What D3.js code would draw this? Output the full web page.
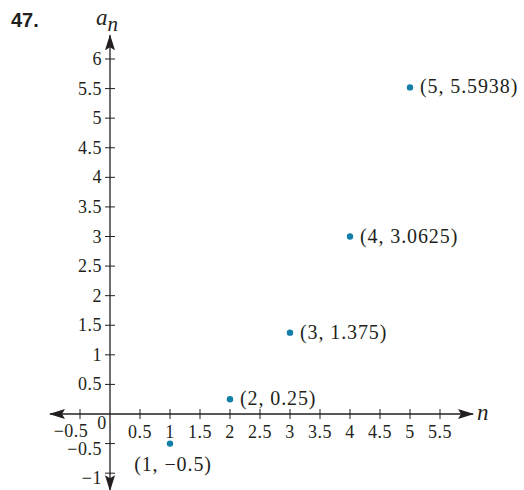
<!DOCTYPE html>
<html>
<head>
<meta charset="utf-8">
<script src="https://cdn.jsdelivr.net/npm/d3@7"></script>
<style>
  html, body { margin: 0; padding: 0; background: #fff; }
  svg { display: block; }
  .tick-label { font-family: "Liberation Serif", "DejaVu Serif", serif; font-size: 18px; letter-spacing: 0.5px; fill: #231f20; }
  .pt-label { font-family: "Liberation Serif", "DejaVu Serif", serif; font-size: 20px; letter-spacing: 0.9px; fill: #231f20; }
</style>
</head>
<body>
<svg id="chart" width="524" height="490"></svg>
<script>
// ---- data ----
const nValues = [1, 2, 3, 4, 5];
const anValues = [-0.5, 0.25, 1.375, 3.0, 5.52];   // plotted positions
const pointLabels = ["(1, \u22120.5)", "(2, 0.25)", "(3, 1.375)", "(4, 3.0625)", "(5, 5.5938)"];
const xTicks = [-0.5, 0.5, 1, 1.5, 2, 2.5, 3, 3.5, 4, 4.5, 5, 5.5];
const yTicks = [-1, -0.5, 0.5, 1, 1.5, 2, 2.5, 3, 3.5, 4, 4.5, 5, 5.5, 6];
const problemNumber = "47.";

// ---- layout ----
const svg = d3.select("#chart");
const ink = "#231f20";
const dotColor = "#137ea8";

const x = d3.scaleLinear().domain([0, 5]).range([110, 410]);
const y = d3.scaleLinear().domain([0, 6]).range([414, 59]);

const fmt = v => (v < 0 ? "\u2212" : "") + String(Math.abs(v));

// arrow markers
const defs = svg.append("defs");
defs.append("marker")
  .attr("id", "arr")
  .attr("viewBox", "0 0 16 10")
  .attr("refX", 15).attr("refY", 5)
  .attr("markerWidth", 16).attr("markerHeight", 10)
  .attr("markerUnits", "userSpaceOnUse")
  .attr("orient", "auto-start-reverse")
  .append("path")
  .attr("d", "M0,0 L16,5 L0,10 L3,5 Z")
  .attr("fill", ink);

// x axis line
svg.append("line")
  .attr("x1", x(-1)).attr("x2", x(6.05))
  .attr("y1", y(0)).attr("y2", y(0))
  .attr("stroke", ink).attr("stroke-width", 1.3)
  .attr("marker-start", "url(#arr)")
  .attr("marker-end", "url(#arr)");

// y axis line
svg.append("line")
  .attr("x1", x(0)).attr("x2", x(0))
  .attr("y1", y(-1.29)).attr("y2", y(6.4))
  .attr("stroke", ink).attr("stroke-width", 1.3)
  .attr("marker-start", "url(#arr)")
  .attr("marker-end", "url(#arr)");

// x ticks
const xt = svg.append("g").selectAll("g").data(xTicks).join("g")
  .attr("transform", d => `translate(${x(d)},${y(0)})`);
xt.append("line").attr("y1", -5).attr("y2", 5).attr("stroke", ink).attr("stroke-width", 1);
xt.append("text").attr("class", "tick-label")
  .attr("text-anchor", "middle")
  .attr("x", d => d < 0 ? -9 : 0)
  .attr("y", d => d < 0 ? 23 : 24)
  .text(d => fmt(d));

// y ticks
const yt = svg.append("g").selectAll("g").data(yTicks).join("g")
  .attr("transform", d => `translate(${x(0)},${y(d)})`);
yt.append("line").attr("x1", -5).attr("x2", 5).attr("stroke", ink).attr("stroke-width", 1);
yt.append("text").attr("class", "tick-label")
  .attr("text-anchor", "end")
  .attr("x", -8)
  .attr("y", d => d < 0 ? 11 : 6)
  .text(d => fmt(d));

// origin label
svg.append("text").attr("class", "tick-label")
  .attr("x", x(0) - 8).attr("y", y(0) + 15)
  .attr("text-anchor", "middle")
  .text("0");

// axis titles
svg.append("text")
  .attr("x", x(0) + 367).attr("y", y(0) + 6)
  .attr("font-family", "Liberation Serif, serif").attr("font-style", "italic")
  .attr("font-size", 23).attr("fill", ink)
  .text("n");
const an = svg.append("text")
  .attr("x", 96).attr("y", 25)
  .attr("font-family", "Liberation Serif, serif").attr("font-style", "italic")
  .attr("font-size", 23).attr("fill", ink);
an.append("tspan").text("a");
an.append("tspan").attr("dy", 6).attr("font-size", 21).text("n");

// problem number
svg.append("text")
  .attr("x", 11).attr("y", 27)
  .attr("font-family", "Liberation Sans, Arial, sans-serif")
  .attr("font-weight", "bold").attr("font-size", 20).attr("fill", ink)
  .text(problemNumber);

// points
const pts = nValues.map((n, i) => ({ n, a: anValues[i], label: pointLabels[i] }));
svg.append("g").selectAll("circle").data(pts).join("circle")
  .attr("cx", d => x(d.n)).attr("cy", d => y(d.a))
  .attr("r", 3.2).attr("fill", dotColor);

svg.append("g").selectAll("text").data(pts).join("text")
  .attr("class", "pt-label")
  .attr("x", d => d.a < 0 ? x(d.n) + 3 : x(d.n) + 10)
  .attr("y", d => d.a < 0 ? y(d.a) + 27 : y(d.a) + 6)
  .attr("text-anchor", d => d.a < 0 ? "middle" : "start")
  .text(d => d.label);
</script>
</body>
</html>
